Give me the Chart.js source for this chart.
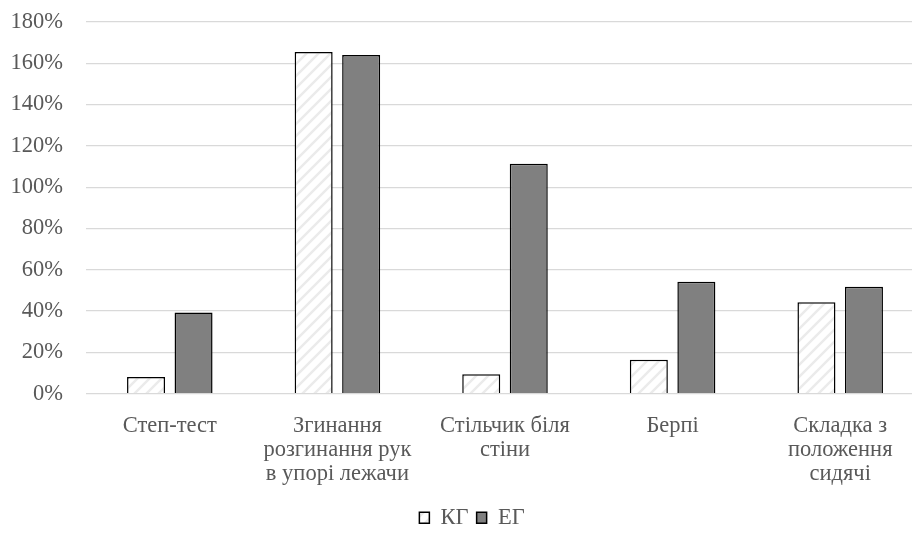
<!DOCTYPE html>
<html>
<head>
<meta charset="utf-8">
<script src="https://cdn.jsdelivr.net/npm/chart.js@4.4.1/dist/chart.umd.min.js"></script>
<style>
  html, body { margin: 0; padding: 0; background: #fff; overflow: hidden; }
  #wrap { position: relative; width: 926px; height: 542px; }
</style>
</head>
<body>
<div id="wrap"><canvas id="chart"></canvas></div>
<script>
// categories and values (in %)
const categories = [
    'Степ-тест',
    ['Згинання', 'розгинання рук', 'в упорі лежачи'],
    ['Стільчик біля', 'стіни'],
    'Берпі',
    ['Складка з', 'положення', 'сидячі']
]
const seriesNames = ['КГ', 'ЕГ']
const kgValues = [8, 165.5, 9.4, 16.4, 44.3]
const egValues = [39.3, 164, 111.3, 54.2, 51.8]
const yTicks = [0, 20, 40, 60, 80, 100, 120, 140, 160, 180]

// light diagonal hatch for the КГ bars
function makeHatch() {
    const c = document.createElement('canvas')
    c.width = 12
    c.height = 12
    const ctx = c.getContext('2d')
    ctx.fillStyle = '#ffffff'
    ctx.fillRect(0, 0, 12, 12)
    ctx.strokeStyle = '#ebebeb'
    ctx.lineWidth = 2.5
    ctx.beginPath()
    ctx.moveTo(-3, 15); ctx.lineTo(15, -3)
    ctx.moveTo(-9, 9); ctx.lineTo(9, -9)
    ctx.moveTo(3, 21); ctx.lineTo(21, 3)
    ctx.stroke()
    return ctx.createPattern(c, 'repeat')
}

Chart.defaults.font.family = '"Liberation Serif", "Times New Roman", serif'
const font = {family: '"Liberation Serif", "Times New Roman", serif', size: 22.5, lineHeight: 1.08}
const textColor = '#595959'

// nudge the legend to the right, like in the original
const legendShift = {
    id: 'legendShift',
    afterLayout(chart) {
        chart.legend.left += 10
        chart.legend.right += 10
    }
}

new Chart(document.getElementById('chart'), {
    type: 'bar',
    data: {
        labels: categories,
        datasets: [{
            label: seriesNames[0],
            data: kgValues,
            backgroundColor: makeHatch(),
            borderColor: '#000000',
            borderWidth: 1.5
        }, {
            label: seriesNames[1],
            data: egValues,
            backgroundColor: '#808080',
            borderColor: '#000000',
            borderWidth: 1.5
        }]
    },
    options: {
        responsive: true,
        maintainAspectRatio: false,
        animation: false,
        layout: {padding: {top: 22, right: 2, left: 0, bottom: 3}},
        barPercentage: 0.8,
        categoryPercentage: 0.567,
        plugins: {
            tooltip: {enabled: false},
            legend: {
                position: 'bottom',
                labels: {
                    font: font,
                    color: textColor,
                    boxWidth: 10,
                    boxHeight: 11,
                    padding: 8
                }
            }
        },
        scales: {
            x: {
                grid: {display: false},
                border: {display: false},
                ticks: {
                    font: font,
                    color: textColor,
                    padding: 12,
                    maxRotation: 0,
                    autoSkip: false
                }
            },
            y: {
                min: 0,
                max: 180,
                afterFit: (scale) => {
                    scale.width = 86
                    scale.paddingTop = 0
                    scale.paddingBottom = 0
                },
                afterBuildTicks: (scale) => { scale.ticks = yTicks.map(v => ({value: v})) },
                grid: {color: '#d9d9d9', lineWidth: 1.3, drawTicks: false},
                border: {display: false},
                ticks: {
                    font: font,
                    color: textColor,
                    padding: 23,
                    callback: (value) => value + '%'
                }
            }
        }
    },
    plugins: [legendShift]
})
</script>
</body>
</html>
